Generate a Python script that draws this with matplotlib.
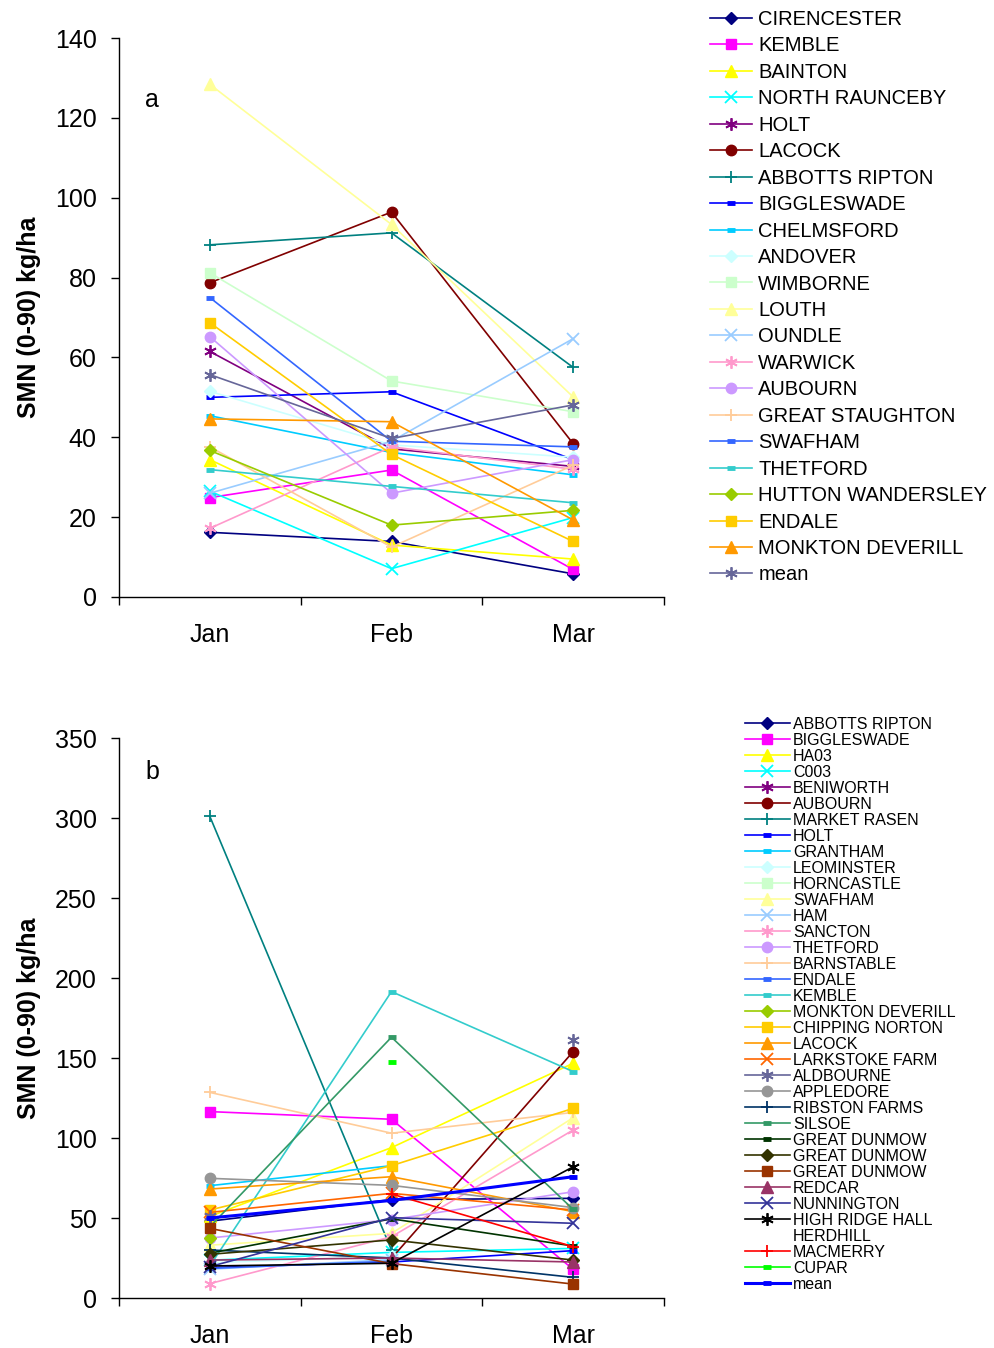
import matplotlib.pyplot as plt
import numpy as np
from matplotlib.ticker import FixedLocator, NullFormatter

plt.rcParams["font.family"] = ["Liberation Sans", "DejaVu Sans"]

nan = np.nan
MONTHS = ["Jan", "Feb", "Mar"]

# ---- panel a ----
SITES_A = ["CIRENCESTER", "KEMBLE", "BAINTON", "NORTH RAUNCEBY", "HOLT", "LACOCK",
           "ABBOTTS RIPTON", "BIGGLESWADE", "CHELMSFORD", "ANDOVER", "WIMBORNE",
           "LOUTH", "OUNDLE", "WARWICK", "AUBOURN", "GREAT STAUGHTON", "SWAFHAM",
           "THETFORD", "HUTTON WANDERSLEY", "ENDALE", "MONKTON DEVERILL", "mean"]
JAN_A = [16.2, 24.9, 34.4, 26.5, 61.5, 78.7, 88.2, 50.0, 45.4, 51.5, 81.2,
         128.4, 26.0, 17.2, 65.2, 37.6, 75.0, 31.9, 36.7, 68.7, 44.6, 55.7]
FEB_A = [13.9, 31.8, 13.0, 7.1, 37.1, 96.4, 91.2, 51.4, 36.2, 38.1, 54.1,
         93.3, 39.0, 37.6, 26.0, 12.5, 39.0, 27.7, 18.0, 35.7, 43.9, 39.7]
MAR_A = [5.8, 6.9, 9.5, 19.9, 32.7, 38.4, 57.5, 34.4, 30.6, 35.0, 46.4,
         50.1, 64.7, 32.0, 34.4, 33.0, 37.6, 23.6, 21.7, 13.9, 19.3, 48.1]

# ---- panel b ----
SITES_B = ["ABBOTTS RIPTON", "BIGGLESWADE", "HA03", "C003", "BENIWORTH", "AUBOURN",
           "MARKET RASEN", "HOLT", "GRANTHAM", "LEOMINSTER", "HORNCASTLE", "SWAFHAM",
           "HAM", "SANCTON", "THETFORD", "BARNSTABLE", "ENDALE", "KEMBLE",
           "MONKTON DEVERILL", "CHIPPING NORTON", "LACOCK", "LARKSTOKE FARM",
           "ALDBOURNE", "APPLEDORE", "RIBSTON FARMS", "SILSOE", "GREAT DUNMOW",
           "GREAT DUNMOW", "GREAT DUNMOW", "REDCAR", "NUNNINGTON", "HIGH RIDGE HALL",
           "HERDHILL", "MACMERRY", "CUPAR", "mean"]
JAN_B = [48, 116.5, 51, 23.6, 51, nan, 301, 19, 70.2, 22, nan, 33, 18, 9, 37.5,
         128.5, 18.5, 20, 37.3, 55, 68.1, 53.5, 51, 74.8, 30, 44.5, 28, 27.3,
         43.5, 23.7, 19.6, 20, nan, nan, nan, 50]
FEB_B = [61.5, 111.7, 94, 28.5, nan, 24.8, 30, 22.5, 82.7, 26, nan, 40.4, 24, 38.3,
         49, 103, 23, 191.5, nan, 82.7, 75.8, 65.4, nan, 70.4, 25, 163, 49.5, 36.3,
         21.5, 25, 50.2, 21.7, nan, 65, 147.3, 61]
MAR_B = [62.3, 17.9, 146.7, 31, nan, 154, nan, 29.6, nan, nan, nan, 112.7, nan, 105,
         66.4, 116, nan, 141.5, nan, 118.5, 54, 55, 161.5, 56.5, 12.9, 55.4, 32.5,
         23.7, 8.7, 22.5, 46.7, 82, nan, 32.1, nan, 75.8]

# ---- styles (Excel palette) ----
STAR = (6, 2, 0)
COLORS_A = ["#000080", "#FF00FF", "#FFFF00", "#00FFFF", "#800080", "#800000",
            "#008080", "#0000FF", "#00CCFF", "#CCFFFF", "#CCFFCC", "#FFFF99",
            "#99CCFF", "#FF99CC", "#CC99FF", "#FFCC99", "#3366FF", "#33CCCC",
            "#99CC00", "#FFCC00", "#FF9900", "#666699"]
MARKERS_A = ["D", "s", "^", "x", STAR, "o", "+", "_", "_", "D", "s", "^", "x",
             STAR, "o", "+", "_", "_", "D", "s", "^", STAR]
COLORS_B = COLORS_A[:21] + ["#FF6600", "#666699", "#969696", "#003366", "#339966",
                            "#003300", "#333300", "#993300", "#993366", "#333399",
                            "#000000", "none", "#FF0000", "#00FF00", "#0000FF"]
MARKERS_B = MARKERS_A[:21] + ["x", STAR, "o", "+", "_", "_", "D", "s", "^", "x",
                              STAR, "none", "+", "_", "_"]


def marker_kw(m, color):
    if m == "_":
        return dict(marker="_", markersize=6, markeredgewidth=3.5, markeredgecolor=color)
    if m in ("x", "+") or m == STAR:
        return dict(marker=m, markersize=9, markeredgewidth=1.3, markeredgecolor=color)
    size = {"D": 6.5, "s": 7, "^": 8, "o": 7.5}.get(m, 7)
    return dict(marker=m, markersize=size, markerfacecolor=color, markeredgecolor=color)


def draw_panel(ax, sites, jan, feb, mar, colors, markers, ymax, ystep, letter, letter_y):
    x = np.arange(1, 4)
    for i, name in enumerate(sites):
        y = np.array([jan[i], feb[i], mar[i]], dtype=float)
        c = colors[i]
        if c == "none":
            ax.plot(x, y, linestyle="none", marker="none", label=name)
            continue
        lw = 2.2 if (name == "mean" and c == "#0000FF") else 1.2
        ax.plot(x, y, color=c, linewidth=lw, label=name, **marker_kw(markers[i], c))

    ax.set_xlim(0.5, 3.5)
    ax.set_ylim(0, ymax)
    ax.xaxis.set_major_locator(FixedLocator([0.5, 1.5, 2.5, 3.5]))
    ax.xaxis.set_major_formatter(NullFormatter())
    ax.set_xticks(x, MONTHS, minor=True)
    ax.tick_params(axis="x", which="minor", length=0, pad=19, labelsize=18)
    ax.tick_params(axis="x", which="major", direction="out", length=6, width=1)
    ax.set_yticks(np.arange(0, ymax + 1, ystep))
    ax.tick_params(axis="y", direction="out", length=6, width=1, labelsize=18, pad=10)
    for s in ("top", "right"):
        ax.spines[s].set_visible(False)
    for s in ("left", "bottom"):
        ax.spines[s].set_linewidth(1)
    ax.set_ylabel("SMN (0-90) kg/ha", fontsize=18, fontweight="bold", labelpad=10)
    ax.text(0.048, letter_y, letter, transform=ax.transAxes, fontsize=18,
            va="center", ha="left")


W, H = 995, 1348
fig = plt.figure(figsize=(W / 100, H / 100), dpi=100)

ax_a = fig.add_axes([119 / W, 1 - 597 / H, 545 / W, 559 / H])
draw_panel(ax_a, SITES_A, JAN_A, FEB_A, MAR_A, COLORS_A, MARKERS_A, 140, 20, "a", 0.889)
ax_a.legend(loc="upper left", bbox_to_anchor=(710 / W, 1 - 10 / H),
            bbox_transform=fig.transFigure, frameon=False, fontsize=14.5,
            handlelength=2.1, handletextpad=0.3, labelspacing=0.37,
            borderpad=0, borderaxespad=0)

ax_b = fig.add_axes([119 / W, 1 - 1298 / H, 545 / W, 560 / H])
draw_panel(ax_b, SITES_B, JAN_B, FEB_B, MAR_B, COLORS_B, MARKERS_B, 350, 50, "b", 0.939)
ax_b.legend(loc="upper left", bbox_to_anchor=(745 / W, 1 - 717 / H),
            bbox_transform=fig.transFigure, frameon=False, fontsize=11.5,
            handlelength=2.8, handletextpad=0.2, labelspacing=0.062,
            borderpad=0, borderaxespad=0)

fig.savefig("out.png", dpi=100)
